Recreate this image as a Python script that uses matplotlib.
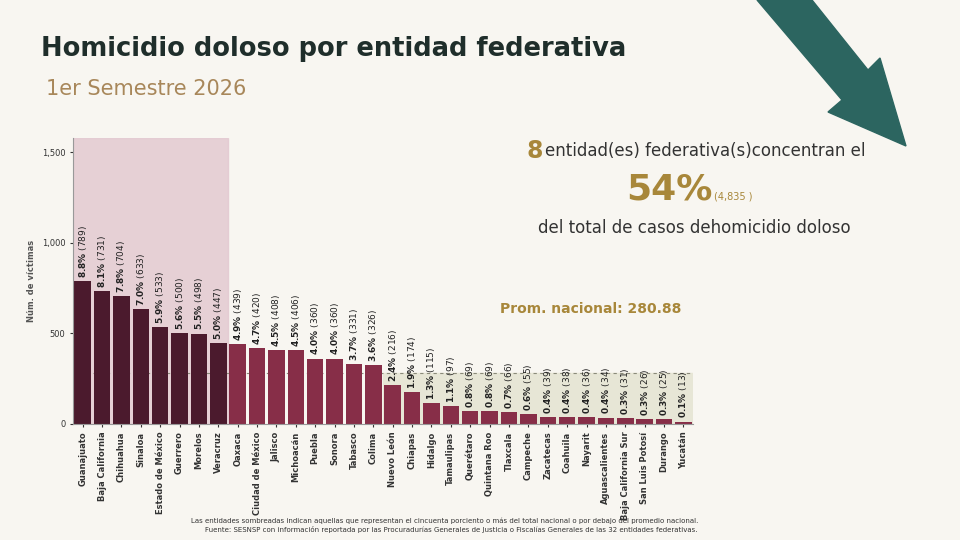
import matplotlib.pyplot as plt
import matplotlib.patches as mpatches
import numpy as np

estados = ["Guanajuato", "Baja California", "Chihuahua", "Sinaloa", "Estado de México", "Guerrero",
           "Morelos", "Veracruz", "Oaxaca", "Ciudad de México", "Jalisco", "Michoacán", "Puebla",
           "Sonora", "Tabasco", "Colima", "Nuevo León", "Chiapas", "Hidalgo", "Tamaulipas",
           "Querétaro", "Quintana Roo", "Tlaxcala", "Campeche", "Zacatecas", "Coahuila", "Nayarit",
           "Aguascalientes", "Baja California Sur", "San Luis Potosí", "Durango", "Yucatán"]
victimas = [789, 731, 704, 633, 533, 500, 498, 447, 439, 420, 408, 406, 360, 360, 331, 326,
            216, 174, 115, 97, 69, 69, 66, 55, 39, 38, 36, 34, 31, 26, 25, 13]
pct = ["8.8", "8.1", "7.8", "7.0", "5.9", "5.6", "5.5", "5.0", "4.9", "4.7", "4.5", "4.5", "4.0",
       "4.0", "3.7", "3.6", "2.4", "1.9", "1.3", "1.1", "0.8", "0.8", "0.7", "0.6", "0.4", "0.4",
       "0.4", "0.4", "0.3", "0.3", "0.3", "0.1"]
promedio = 280.88
n_top = 8
n_low = 16

bg = "#f8f6f1"
fig = plt.figure(figsize=(9.6, 5.4), dpi=100, facecolor=bg)
ax = fig.add_axes([0.076, 0.215, 0.646, 0.53], facecolor=bg)

x = np.arange(len(estados))
colors = ["#4b1a2d" if i < n_top else "#872e48" for i in x]
ax.bar(x, victimas, width=0.85, color=colors, zorder=2)
ax.set_xlim(-0.5, len(estados) - 0.5)
ax.set_ylim(0, 1580)

ax.axvspan(-0.5, n_top - 0.5, color="#e2c7cf", alpha=0.8, zorder=0)
ax.add_patch(mpatches.Rectangle((n_low - 0.5, 0), len(estados) - n_low, promedio,
                                color="#e7e6d6", zorder=0))
ax.axhline(promedio, color="#8a8a7a", ls=(0, (3, 3)), lw=0.8, zorder=1)

for i, v in enumerate(victimas):
    ax.text(i, v + 18, r"$\bf{" + pct[i] + r"\%}$ (" + str(v) + ")", rotation=90,
            ha="center", va="bottom", fontsize=6.5, color="#222222", zorder=3)

ax.set_xticks(x)
ax.set_xticklabels(estados, rotation=90, fontsize=6, fontweight="bold")
ax.set_yticks([0, 500, 1000, 1500])
ax.set_yticklabels(["0", "500", "1,000", "1,500"], fontsize=6)
ax.set_ylabel("Núm. de víctimas", fontsize=6, fontweight="bold", color="#555555")
for s in ["top", "right"]:
    ax.spines[s].set_visible(False)
ax.spines["left"].set_color("#999999")
ax.spines["bottom"].set_color("#999999")
ax.tick_params(length=2, colors="#333333")

fig.text(0.043, 0.91, "Homicidio doloso por entidad federativa", fontsize=18.5, fontweight="bold",
         color="#1f2e2b", va="center")
fig.text(0.048, 0.835, "1er Semestre 2026", fontsize=15, color="#a8875a", va="center")

fig.text(0.548, 0.72, "8", fontsize=17, fontweight="bold", color="#a8873a", ha="left", va="center")
fig.text(0.568, 0.72, "entidad(es) federativa(s)concentran el", fontsize=12, color="#333333",
         ha="left", va="center")
fig.text(0.652, 0.65, "54%", fontsize=26, fontweight="bold", color="#a8873a", ha="left", va="center")
fig.text(0.744, 0.637, "(4,835 )", fontsize=7, color="#a8873a", ha="left", va="center")
fig.text(0.56, 0.578, "del total de casos dehomicidio doloso", fontsize=12, color="#333333",
         ha="left", va="center")
fig.text(0.71, 0.427, "Prom. nacional: 280.88", fontsize=10, fontweight="bold", color="#a8873a",
         ha="right", va="center")

fig.text(0.727, 0.032, "Las entidades sombreadas indican aquellas que representan el cincuenta porciento o más del total nacional o por debajo del promedio nacional.",
         fontsize=5, ha="right", color="#333333")
fig.text(0.727, 0.014, "Fuente: SESNSP con información reportada por las Procuradurías Generales de Justicia o Fiscalías Generales de las 32 entidades federativas.",
         fontsize=5, ha="right", color="#333333")

pts = [(757, 0), (812, 0), (868, 70), (880, 58), (906, 146), (828, 112), (842, 100)]
arrow = mpatches.Polygon([(px / 960, 1 - py / 540) for px, py in pts], closed=True,
                         transform=fig.transFigure, color="#2c6560")
fig.patches.append(arrow)

fig.savefig("out.png", dpi=100, facecolor=bg)
